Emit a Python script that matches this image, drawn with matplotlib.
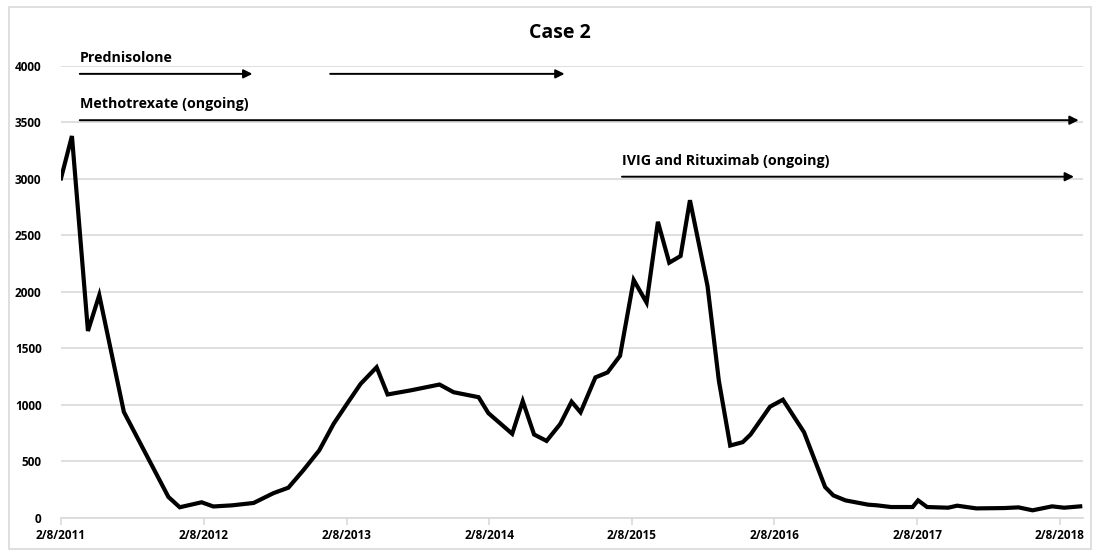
import pandas as pd
import matplotlib.pyplot as plt
import matplotlib.dates as mdates
from matplotlib.patches import Rectangle

plt.rcParams['font.family'] = ['Open Sans', 'DejaVu Sans']

# Data
dates = ['2011-02-08', '2011-03-08', '2011-04-18', '2011-05-17', '2011-07-19',
         '2011-11-10', '2011-12-09', '2012-02-03', '2012-03-04', '2012-04-21',
         '2012-06-15', '2012-08-05', '2012-09-12', '2012-10-20', '2012-11-30',
         '2013-01-06', '2013-02-12', '2013-03-16', '2013-04-26', '2013-05-24',
         '2013-07-23', '2013-10-04', '2013-11-09', '2014-01-12', '2014-02-06',
         '2014-04-08', '2014-05-05', '2014-06-03', '2014-07-05', '2014-08-09',
         '2014-09-07', '2014-09-30', '2014-11-07', '2014-12-08', '2015-01-09',
         '2015-02-13', '2015-03-18', '2015-04-16', '2015-05-15', '2015-06-13',
         '2015-07-07', '2015-08-21', '2015-09-19', '2015-10-18', '2015-11-19',
         '2015-12-09', '2016-01-28', '2016-03-01', '2016-04-24', '2016-06-17',
         '2016-07-08', '2016-08-08', '2016-10-05', '2016-10-28', '2016-12-03',
         '2017-01-27', '2017-02-10', '2017-03-05', '2017-04-28', '2017-05-21',
         '2017-07-09', '2017-09-19', '2017-10-25', '2017-11-30', '2018-01-19',
         '2018-02-19', '2018-04-01']
values = [3005, 3380, 1655, 1972, 938,
          186, 95, 139, 102, 112,
          133, 220, 268, 421, 598,
          834, 1025, 1187, 1334, 1093,
          1130, 1181, 1113, 1069, 928,
          745, 1034, 739, 682, 832,
          1029, 935, 1244, 1288, 1435,
          2106, 1906, 2621, 2259, 2318,
          2812, 2053, 1215, 641, 671,
          738, 985, 1047, 759, 274,
          200, 156, 118, 112, 97,
          97, 156, 97, 91, 109,
          85, 88, 94, 68, 103,
          91, 103]

tick_dates = ['2011-02-08', '2012-02-08', '2013-02-08', '2014-02-08',
              '2015-02-08', '2016-02-08', '2017-02-08', '2018-02-08']

# treatment arrows: (label, start, end, level)
treatments = [
    ('Prednisolone', '2011-03-28', '2012-06-12', 3930),
    ('', '2012-12-28', '2014-08-20', 3930),
    ('Methotrexate (ongoing)', '2011-03-28', '2018-03-28', 3520),
    ('IVIG and Rituximab (ongoing)', '2015-01-14', '2018-03-16', 3020),
]

x = pd.to_datetime(dates)

fig = plt.figure(figsize=(10.93, 5.51), dpi=100)
ax = fig.add_axes([0.0558, 0.0599, 0.935, 0.8204])

ax.plot(x, values, color='black', lw=3.0, solid_joinstyle='miter', zorder=3)

ax.set_xlim(pd.Timestamp('2011-02-08'), pd.Timestamp('2018-04-08'))
ax.set_ylim(0, 4000)
ax.set_yticks(range(0, 4001, 500))
ax.set_xticks(pd.to_datetime(tick_dates))
ax.xaxis.set_major_formatter(mdates.DateFormatter('%-m/%-d/%Y'))
ax.grid(axis='y', color='#d9d9d9', lw=1.2)
ax.set_axisbelow(True)
for s in ['top', 'right', 'left']:
    ax.spines[s].set_visible(False)
ax.spines['bottom'].set_color('#d9d9d9')
ax.spines['bottom'].set_linewidth(1.2)
ax.tick_params(axis='y', length=0, pad=14, labelsize=8.5)
ax.tick_params(axis='x', length=5, color='#d9d9d9', width=1.2, pad=3, labelsize=8.5)
for lab in ax.get_xticklabels() + ax.get_yticklabels():
    lab.set_fontweight('bold')

for label, start, end, level in treatments:
    ax.annotate('', xy=(pd.Timestamp(end), level), xytext=(pd.Timestamp(start), level),
                arrowprops=dict(arrowstyle='-|>', color='black', lw=1.4,
                                mutation_scale=13, shrinkA=0, shrinkB=0),
                annotation_clip=False)
    if label:
        ax.text(pd.Timestamp(start), level + 80, label, fontsize=10.3,
                fontweight='bold', ha='left', va='bottom', clip_on=False)

fig.text(0.512, 0.94, 'Case 2', fontsize=14, fontweight='bold', ha='center', va='center')

# light border around chart area
fig.patches.append(Rectangle((0.008, 0.004), 0.99, 0.983, transform=fig.transFigure,
                             fill=False, edgecolor='#d9d9d9', lw=1.2))

fig.savefig('out.png', dpi=100)
